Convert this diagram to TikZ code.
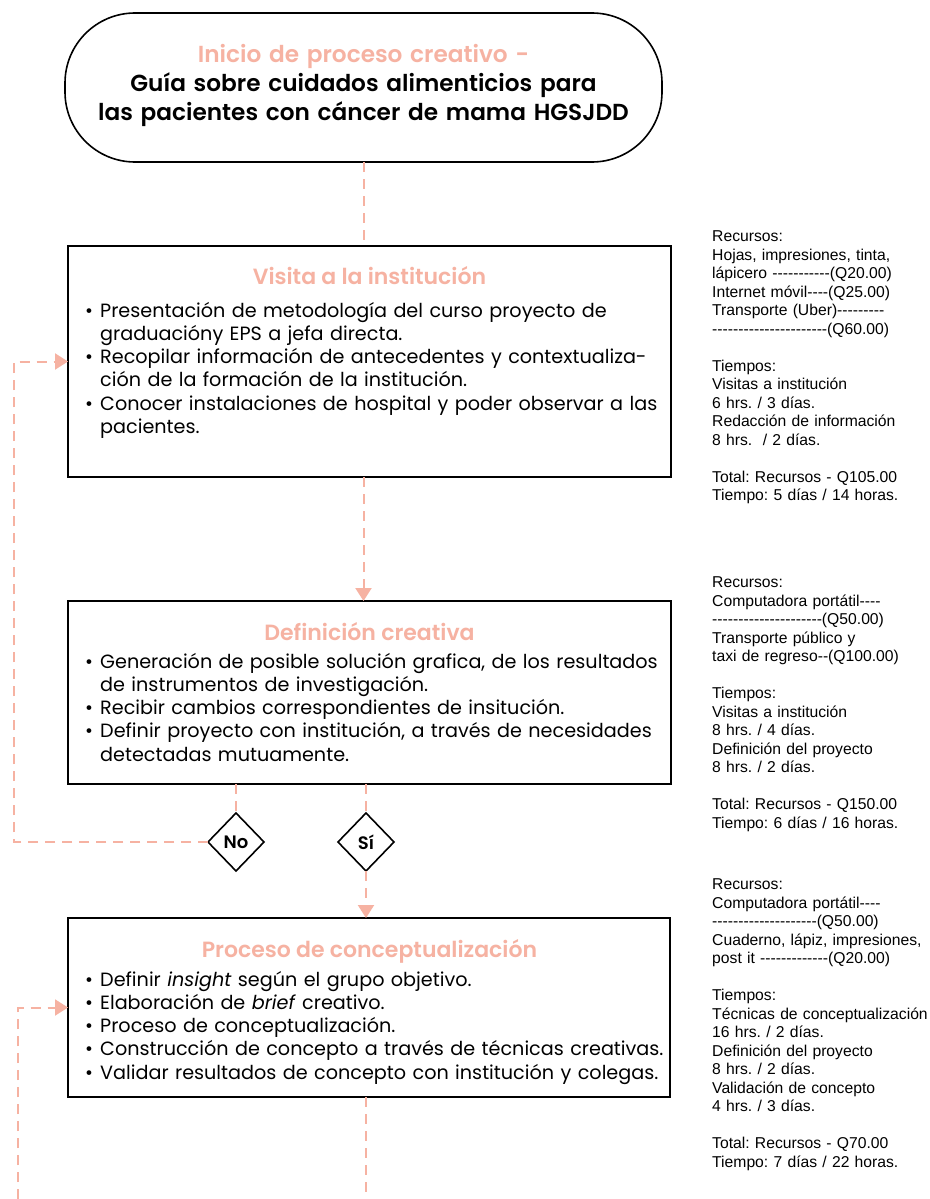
\documentclass[tikz,border=0pt]{standalone}
\usepackage{fontspec}
\setmainfont{Poppins}
\newfontfamily\arialf{Liberation Sans}
\newfontface\popsb{Poppins SemiBold}
\usetikzlibrary{arrows.meta,shapes.geometric}
\definecolor{pinkc}{RGB}{246,178,162}
\newcommand\hh[1]{\foreach\n in {1,...,#1}{-\kern0pt}}
\newcommand\bul{\makebox[15pt][l]{•}}
\newcommand\ind{\hspace*{15pt}}
\frenchspacing
\begin{document}
\begin{tikzpicture}[x=1pt,y=-1pt,
  boxn/.style={draw=black,line width=1.6pt,inner sep=0pt,outer sep=0pt,rectangle},
  ttl/.style={font=\popsb\fontsize{22}{26}\selectfont,text=pinkc,anchor=base,inner sep=0pt},
  bodyt/.style={font=\fontsize{19.2}{23.3}\selectfont,text width=620pt,align=left,anchor=base west,inner sep=0pt},
  side/.style={font=\arialf\fontsize{15.7}{18.5}\selectfont,text width=230pt,align=left,anchor=base west,inner sep=0pt},
  dl/.style={draw=pinkc,line width=2pt,dash pattern=on 10pt off 7pt},
  dla/.style={dl,-{Triangle[width=16pt,length=13pt]}},
  dec/.style={diamond,draw=black,line width=1.6pt,minimum width=56pt,minimum height=58pt,inner sep=0pt,outer sep=0pt,font=\popsb\fontsize{18}{20}\selectfont}]
\useasboundingbox[fill=white] (0,0) rectangle (929,1199);

% start terminal
\node[draw=black,line width=1.6pt,rounded corners=70pt,minimum width=597pt,minimum height=149pt,inner sep=0pt,outer sep=0pt] (start) at (363.5,87.5) {};
\node[font=\popsb\fontsize{23.2}{29}\selectfont,text width=620pt,align=center,anchor=base,inner sep=0pt] (starttxt) at (363.5,63)
  {{\color{pinkc}Inicio de proceso creativo -}\\Guía sobre cuidados alimenticios para\\las pacientes con cáncer de mama HGSJDD};

% boxes
\node[boxn,minimum width=603pt,minimum height=231pt] (b1) at (369.5,361.5) {};
\node[boxn,minimum width=603pt,minimum height=183pt] (b2) at (369.5,692.5) {};
\node[boxn,minimum width=602pt,minimum height=179pt] (b3) at (369,1007.5) {};

\node[ttl] (t1) at (369.5,284) {Visita a la institución};
\node[bodyt] (c1) at (85,317) {\bul Presentación de metodología del curso proyecto de\\
\ind graduacióny EPS a jefa directa.\\
\bul Recopilar información de antecedentes y contextualiza-\\
\ind ción de la formación de la institución.\\
\bul Conocer instalaciones de hospital y poder observar a las\\
\ind pacientes.};

\node[ttl] (t2) at (369.5,640) {Definición creativa};
\node[bodyt] (c2) at (85,668) {\bul Generación de posible solución grafica, de los resultados\\
\ind de instrumentos de investigación.\\
\bul Recibir cambios correspondientes de insitución.\\
\bul Definir proyecto con institución, a través de necesidades\\
\ind detectadas mutuamente.};

\node[ttl] (t3) at (369.5,957) {Proceso de conceptualización};
\node[bodyt] (c3) at (85,986) {\bul Definir \textit{insight} según el grupo objetivo.\\
\bul Elaboración de \textit{brief} creativo.\\
\bul Proceso de conceptualización.\\
\bul Construcción de concepto a través de técnicas creativas.\\
\bul Validar resultados de concepto con institución y colegas.};

% decisions
\node[dec] (no) at (236,842) {No};
\node[dec] (si) at (366,842) {Sí};

% side notes
\node[side] (s1) at (712,241.5) {Recursos:\\
Hojas, impresiones, tinta,\\
lápicero \hh{11}(Q20.00)\\
Internet móvil\hh{4}(Q25.00)\\
Transporte (Uber)\hh{9}\\
\hh{22}(Q60.00)\\[18.5pt]
Tiempos:\\
Visitas a institución\\
6 hrs. / 3 días.\\
Redacción de información\\
8 hrs.~ / 2 días.\\[18.5pt]
Total: Recursos - Q105.00\\
Tiempo: 5 días / 14 horas.};

\node[side] (s2) at (712,587.5) {Recursos:\\
Computadora portátil\hh{4}\\
\hh{21}(Q50.00)\\
Transporte público y\\
taxi de regreso\hh{2}(Q100.00)\\[18.5pt]
Tiempos:\\
Visitas a institución\\
8 hrs. / 4 días.\\
Definición del proyecto\\
8 hrs. / 2 días.\\[18.5pt]
Total: Recursos - Q150.00\\
Tiempo: 6 días / 16 horas.};

\node[side] (s3) at (712,889.5) {Recursos:\\
Computadora portátil\hh{4}\\
\hh{20}(Q50.00)\\
Cuaderno, lápiz, impresiones,\\
post it \hh{13}(Q20.00)\\[18.5pt]
Tiempos:\\
Técnicas de conceptualización\\
16 hrs. / 2 días.\\
Definición del proyecto\\
8 hrs. / 2 días.\\
Validación de concepto\\
4 hrs. / 3 días.\\[18.5pt]
Total: Recursos - Q70.00\\
Tiempo: 7 días / 22 horas.};

% free ends
\coordinate (lft) at (14,842);
\coordinate (bl) at (18,1199);
\coordinate (bb) at (366,1199);

% connectors
\draw[dl] (start.south) -- (start.south |- b1.north);
\draw[dla] (b1.south -| start.south) -- (b2.north -| start.south);
\draw[dl] (b2.south -| no.north) -- (no.north);
\draw[dl] (b2.south -| si.north) -- (si.north);
\draw[dla] (si.south) -- (si.south |- b3.north);
\draw[dla] (no.west) -- (lft) -- (lft |- b1.west) -- (b1.west);
\draw[dla] (bl) -- (bl |- b3.west) -- (b3.west);
\draw[dl] (b3.south -| bb) -- (bb);
\end{tikzpicture}
\end{document}
